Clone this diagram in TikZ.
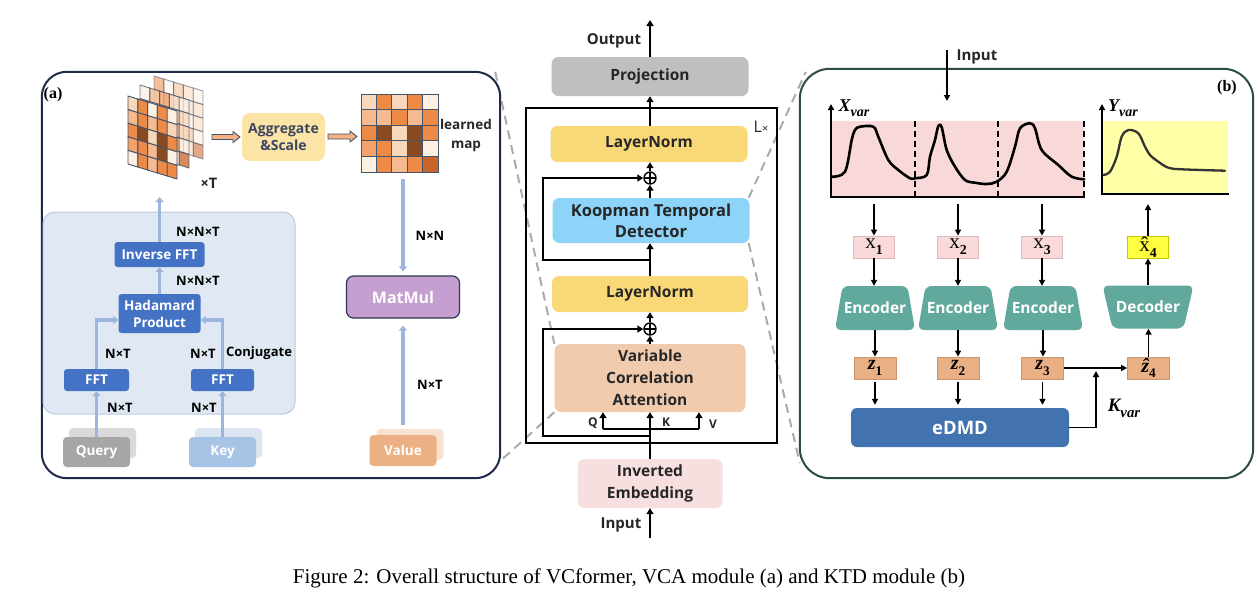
\documentclass[tikz,border=0pt]{standalone}
\usepackage{fontspec}
\setmainfont{Open Sans}
\newfontfamily\serifcap{Liberation Serif}
\usetikzlibrary{arrows.meta,calc}
\definecolor{txt}{HTML}{262626}
\definecolor{navy}{HTML}{1F2B4A}
\definecolor{pbgreen}{HTML}{2F4B47}
\definecolor{dgray}{HTML}{ABABAB}
\definecolor{projgray}{HTML}{BFBFBF}
\definecolor{lnyellow}{HTML}{F9D878}
\definecolor{ktdblue}{HTML}{8DD4F8}
\definecolor{vcapeach}{HTML}{F1CBAE}
\definecolor{embpink}{HTML}{F7DFE0}
\definecolor{aggyellow}{HTML}{FCE4A6}
\definecolor{aggtxt}{HTML}{3B4660}
\definecolor{fftblue}{HTML}{4472C4}
\definecolor{panelblue}{HTML}{DFE8F3}
\definecolor{panelblueb}{HTML}{BCCBDD}
\definecolor{arrowblue}{HTML}{9DB4DE}
\definecolor{matpurple}{HTML}{C59FD1}
\definecolor{matborder}{HTML}{2F3650}
\definecolor{qgray}{HTML}{A6A6A6}
\definecolor{qgrayb}{HTML}{DADADA}
\definecolor{kblue}{HTML}{A7C3E5}
\definecolor{kblueb}{HTML}{DCE6F2}
\definecolor{vpeach}{HTML}{EBB185}
\definecolor{vpeachb}{HTML}{F8E3D3}
\definecolor{encteal}{HTML}{62A99D}
\definecolor{xpink}{HTML}{F9D9D9}
\definecolor{xpinkb}{HTML}{DDB8B8}
\definecolor{xyellow}{HTML}{FFFF3F}
\definecolor{xyellowb}{HTML}{C8C800}
\definecolor{zpeach}{HTML}{E9B086}
\definecolor{zpeachb}{HTML}{C9956E}
\definecolor{edmdblue}{HTML}{4272B0}
\definecolor{plotpink}{HTML}{F8D8D8}
\definecolor{plotyellow}{HTML}{FFFFA8}
\definecolor{gridline}{HTML}{44546A}
\definecolor{hollowfill}{HTML}{F4B183}
\definecolor{gA}{HTML}{FDF0E1}
\definecolor{gB}{HTML}{F8D7BB}
\definecolor{gC}{HTML}{F5BA8F}
\definecolor{gD}{HTML}{F2A26A}
\definecolor{gE}{HTML}{EC8A46}
\definecolor{gF}{HTML}{C9642B}
\definecolor{gG}{HTML}{8A4A1F}
\newcommand{\cellgrid}[6]{%
  \foreach \gcol [count=\k from 0] in {#6} {%
    \pgfmathtruncatemacro\ci{mod(\k,5)}%
    \pgfmathtruncatemacro\cj{div(\k,5)}%
    \filldraw[fill=\gcol, draw=gridline, line width=0.9pt]
      ({#1+#3*\ci},{#2+#5*\ci+#4*\cj}) -- ++(#3,#5) -- ++(0,#4) -- ++(-#3,-#5) -- cycle;
  }%
}
% name, cx, cy, top width, bottom width, height, text
\newcommand{\trapnode}[7]{%
  \fill[encteal, rounded corners=6pt] ({#2-#4/2},{#3-#6/2}) -- ({#2+#4/2},{#3-#6/2}) -- ({#2+#5/2},{#3+#6/2}) -- ({#2-#5/2},{#3+#6/2}) -- cycle;
  \node[inner sep=0pt, minimum width=#5pt, minimum height=#6pt, text=white, font=\fontsize{15.5}{18}\selectfont\bfseries] (#1) at (#2,#3) {#7};
}
% hollow arrow from x1 to x2 at y
\newcommand{\hollowarrow}[3]{%
  \filldraw[fill=hollowfill, draw=gridline, line width=0.9pt, line join=miter]
    (#1,{#3-2.5}) -- ({#2-7},{#3-2.5}) -- ({#2-7},{#3-5.5}) -- (#2,#3) -- ({#2-7},{#3+5.5}) -- ({#2-7},{#3+2.5}) -- (#1,{#3+2.5}) -- cycle;
}
\newcommand{\lowsub}[1]{\raisebox{-0.28em}{\fontsize{0.66em}{0.8em}\selectfont #1}}
\newcommand{\varsub}[1]{\raisebox{-0.3em}{\fontsize{0.78em}{0.9em}\selectfont #1}}
\begin{document}
\begin{tikzpicture}[x=1pt,y=-1pt,
  cbox/.style={rounded corners=7pt, inner sep=0pt, align=center, font=\fontsize{15.5}{21}\selectfont\bfseries, text=txt},
  blk/.style={line width=2.2pt, -{Triangle[width=7pt,length=6pt]}},
  blkl/.style={line width=2.2pt},
  barr/.style={line width=3.5pt, draw=arrowblue, -{Triangle[width=8pt,length=5pt]}},
  fftbox/.style={fill=fftblue, rounded corners=3pt, inner sep=0pt, text=white, font=\fontsize{13.5}{16}\selectfont\bfseries, align=center},
  lbl/.style={font=\fontsize{13}{14}\selectfont\bfseries, inner sep=0pt},
  narr/.style={line width=1.6pt, -{Triangle[width=6pt,length=6pt]}},
  gdash/.style={draw=dgray, line width=2pt, dash pattern=on 9pt off 6pt},
  plusnode/.style={circle, draw, line width=1.4pt, minimum size=12pt, inner sep=0pt,
    path picture={\draw[line width=1.4pt] (path picture bounding box.north) -- (path picture bounding box.south) (path picture bounding box.west) -- (path picture bounding box.east);}},
  stackb/.style={rounded corners=4pt, inner sep=0pt, minimum width=67pt, minimum height=30pt, font=\fontsize{13.5}{15}\selectfont\bfseries, text=white},
  smallbox/.style={inner sep=0pt, minimum width=41pt, minimum height=22pt, line width=0.8pt, font=\serifcap\fontsize{21}{22}\selectfont},
  zbox/.style={smallbox, fill=zpeach, draw=zpeachb, minimum width=42pt, font=\serifcap\bfseries\itshape\fontsize{20}{21}\selectfont},
  mathlbl/.style={inner sep=0pt, font=\serifcap\bfseries\itshape\fontsize{18}{19}\selectfont},
  axisline/.style={line width=2pt}
]
\useasboundingbox (0,0) rectangle (1258,606);
\fill[white] (0,0) rectangle (1258,606);

% ---------- panels and dashed zoom lines ----------
\node[minimum width=458pt, minimum height=406pt, inner sep=0pt] (pa) at (271,275) {};
\node[minimum width=453pt, minimum height=409pt, inner sep=0pt] (pb) at (1026.5,273.5) {};
\node[minimum width=191pt, minimum height=68pt, inner sep=0pt] (vcaghost) at (650,378) {};
\node[minimum width=197pt, minimum height=45pt, inner sep=0pt] (ktdghost) at (650,220.5) {};

\draw[gdash] ([xshift=-5pt]pa.north east) -- (vcaghost.north west);
\draw[gdash] (vcaghost.south west) -- ($(pa.south east)+(-8,-10)$);
\draw[gdash] (ktdghost.north east) -- ($(pb.north west)+(6,3)$);
\draw[gdash] (ktdghost.south east) -- ($(pb.south west)+(0,-15)$);

\filldraw[fill=white, draw=navy, line width=2pt, rounded corners=25pt] (pa.north west) rectangle (pa.south east);
\filldraw[fill=white, draw=pbgreen, line width=2pt, rounded corners=30pt] (pb.north west) rectangle (pb.south east);

% ================= CENTER COLUMN =================
\node[draw, line width=2.5pt, minimum width=251pt, minimum height=335pt, inner sep=0pt] (lbox) at (651.5,275.5) {};
\node[font=\fontsize{16}{17}\selectfont, text=txt] (lx) at (761,127) {L{\fontsize{11}{11}\selectfont ×}};

\node[cbox, fill=projgray, minimum width=197pt, minimum height=39pt] (proj) at (650,76.5) {Projection};
\node[cbox, fill=lnyellow, minimum width=197pt, minimum height=36pt] (ln1) at (649,144) {LayerNorm};
\node[plusnode] (plus2) at (650,178) {};
\node[cbox, fill=ktdblue, minimum width=197pt, minimum height=45pt, font=\fontsize{16.5}{21}\selectfont\bfseries] (ktd) at (651,220.5) {Koopman Temporal\\Detector};
\node[cbox, fill=lnyellow, minimum width=196pt, minimum height=36pt] (ln2) at (650,294) {LayerNorm};
\node[plusnode] (plus1) at (650,329) {};
\node[cbox, fill=vcapeach, minimum width=191pt, minimum height=68pt, font=\fontsize{15.5}{22}\selectfont\bfseries] (vca) at (650,378) {Variable\\Correlation\\Attention};
\node[cbox, fill=embpink, minimum width=145pt, minimum height=49pt, font=\fontsize{15.5}{22}\selectfont\bfseries] (emb) at (650,483.5) {Inverted\\Embedding};

\coordinate (skipx) at (543,0);
\coordinate (inp) at (650,538);
\coordinate (outp) at (650,20);
\coordinate (s1) at (650,436);
\coordinate (s2) at (650,260);
\coordinate (qb) at (603,429);
\coordinate (vb) at (699,429);

\draw[blk] (inp) -- (emb.south);
\draw[blk] (emb.north) -- (vca.south);
\draw[blkl] (qb) -- (vb);
\draw[blk] (qb) -- (qb |- vca.south);
\draw[blk] (vb) -- (vb |- vca.south);
\draw[blk] (s1) -- (s1 -| skipx) |- (plus1.west);
\draw[blk] (vca.north) -- (plus1.south);
\draw[blk] (plus1.north) -- (ln2.south);
\draw[blk] (ln2.north) -- (ktd.south -| ln2.north);
\draw[blk] (s2) -- (s2 -| skipx) |- (plus2.west);
\draw[blk] (ktd.north -| plus2.south) -- (plus2.south);
\draw[blk] (plus2.north) -- (ln1.south -| plus2.north);
\draw[blk] (ln1.north -| proj.south) -- (proj.south);
\draw[blk] (proj.north) -- (outp);

\node[font=\fontsize{12}{13}\selectfont\bfseries, text=txt] (lq) at (593,423) {Q};
\node[font=\fontsize{12}{13}\selectfont\bfseries, text=txt] (lk) at (666,422) {K};
\node[font=\fontsize{12}{13}\selectfont\bfseries, text=txt] (lv) at (713,424) {V};
\node[font=\fontsize{15}{17}\selectfont\bfseries, text=txt] (outlbl) at (614,41) {Output};
\node[font=\fontsize{15}{17}\selectfont\bfseries, text=txt] (inlbl) at (621,525) {Input};

% ================= PANEL (a) =================
\node[font=\serifcap\bfseries\fontsize{16}{18}\selectfont] (alab) at (53,95) {(a)};
\node[fill=panelblue, draw=panelblueb, line width=1pt, rounded corners=12pt, minimum width=252pt, minimum height=202pt, inner sep=0pt] (bluep) at (169,313) {};

% stacked grids
\begin{scope}[opacity=0.55]
\cellgrid{154}{76}{9.8}{13.6}{3.0}{gE,gA,gC,gB,gA, gB,gC,gA,gB,gB, gA,gB,gC,gA,gB, gB,gA,gB,gC,gA, gA,gB,gA,gB,gF}
\end{scope}
\begin{scope}[opacity=0.75]
\cellgrid{140}{85}{9.8}{13.6}{3.0}{gA,gC,gD,gB,gA, gE,gB,gF,gC,gB, gC,gE,gA,gD,gB, gB,gD,gC,gE,gA, gA,gC,gE,gB,gF}
\end{scope}
\cellgrid{128}{96}{9.8}{13.6}{3.0}{gB,gE,gA,gE,gA, gC,gE,gC,gE,gB, gE,gG,gB,gG,gE, gD,gE,gC,gG,gA, gA,gE,gC,gE,gE}
\node[font=\fontsize{14.5}{16}\selectfont\bfseries, text=txt] (xt) at (209,183) {×T};

% learned map
\cellgrid{361}{94}{15.4}{15.6}{0}{gB,gE,gB,gE,gA, gC,gC,gE,gC,gE, gE,gG,gB,gG,gE, gD,gE,gB,gG,gA, gA,gE,gC,gE,gF}
\node[font=\fontsize{13.5}{19}\selectfont\bfseries, text=txt, align=center] (lm) at (466,135) {learned\\map};

\node[fill=aggyellow, rounded corners=8pt, minimum width=83pt, minimum height=48pt, inner sep=0pt, align=center, text=aggtxt, font=\fontsize{14}{17}\selectfont\bfseries] (agg) at (283.5,137) {Aggregate\\\&Scale};
\hollowarrow{212}{240}{137}
\hollowarrow{328}{357}{136.5}

\node[fftbox, minimum width=90pt, minimum height=25pt] (ifft) at (159.5,254.5) {Inverse FFT};
\node[fftbox, minimum width=82pt, minimum height=39pt, font=\fontsize{13.5}{17}\selectfont\bfseries] (hp) at (159.5,313.5) {Hadamard\\Product};
\node[fftbox, minimum width=65pt, minimum height=22pt] (fftl) at (96.5,380) {FFT};
\node[fftbox, minimum width=63pt, minimum height=22pt] (fftr) at (222.5,380) {FFT};

\node[stackb, fill=qgrayb] (qback) at (102.5,443) {};
\node[stackb, fill=qgray] (query) at (96.5,452) {Query};
\node[stackb, fill=kblueb] (kback) at (228.5,443) {};
\node[stackb, fill=kblue] (key) at (222.5,452) {Key};
\node[stackb, fill=vpeachb, minimum height=31pt] (vback) at (410,444.5) {};
\node[stackb, fill=vpeach, minimum height=31pt] (value) at (403,450.5) {Value};

\node[fill=matpurple, draw=matborder, line width=1.2pt, rounded corners=7pt, minimum width=113pt, minimum height=42pt, inner sep=0pt, text=white, font=\fontsize{16}{18}\selectfont\bfseries] (mm) at (403,297) {MatMul};

\coordinate (gbot) at (159.5,197);
\coordinate (lmbot) at (403,179);
\draw[barr] (query.north) -- (fftl.south);
\draw[barr] (key.north) -- (fftr.south);
\draw[barr] (fftl.north) |- ([yshift=-6.5pt]hp.west);
\draw[barr] (fftr.north) |- ([yshift=-6.5pt]hp.east);
\draw[barr] (hp.north) -- (ifft.south);
\draw[barr] (ifft.north) -- (gbot);
\draw[barr, shorten >=4pt] (lmbot) -- (mm.north);
\draw[barr, shorten >=7pt, shorten <=10pt] (value.north) -- (mm.south);

\node[lbl] (l1) at (198,232) {N×N×T};
\node[lbl] (l2) at (198,281) {N×N×T};
\node[lbl] (l3) at (118,354) {N×T};
\node[lbl] (l4) at (203,354) {N×T};
\node[lbl] (l5) at (259,353) {Conjugate};
\node[lbl] (l6) at (120,408) {N×T};
\node[lbl] (l7) at (204,408) {N×T};
\node[lbl] (l8) at (430,236) {N×N};
\node[lbl] (l9) at (430,385) {N×T};

% ================= PANEL (b) =================
\node[font=\serifcap\bfseries\fontsize{16}{18}\selectfont] (blab) at (1227,88) {(b)};
\coordinate (ib1) at (947,50);
\coordinate (ib2) at (947,101);
\draw[narr, line width=2pt] (ib1) -- (ib2);
\node[font=\fontsize{15}{17}\selectfont\bfseries, text=txt] (inb) at (977,57) {Input};

% X plot
\fill[plotpink] (831,121) rectangle (1084,197);
\draw[line width=1.5pt, dash pattern=on 6pt off 4pt] (915,121) -- (915,197) (998,121) -- (998,197) (1084,121) -- (1084,197);
\draw[line width=2.6pt, line join=round, line cap=round] plot[smooth, tension=0.55] coordinates {
(831.7,176.7) (845,171.7) (851.7,140) (855,130) (860,126.7) (873.3,126.7) (878.3,136.7) (888.3,160) (898.3,170) (910,178.3) (915,178.3) (926.7,175) (930,156.7) (935,140) (938.3,126) (941.7,127.3) (946.7,150) (955,166.7) (965,180) (975,182.7) (986.7,184) (996.7,181.7) (1006.7,171.7) (1015,146.7) (1020,128.3) (1030,123.3) (1035,128.3) (1041.7,150) (1058.3,165) (1071.7,176.7) (1084.3,179.3)};
\draw[axisline, -{Triangle[width=6pt,length=6pt]}] (831,197) -- (831,104);
\draw[axisline] (830,197) -- (1085,197);
\node[mathlbl] (xvar) at (854,108) {X\varsub{var}};

% Y plot
\fill[plotyellow] (1102,121) rectangle (1228,194);
\draw[line width=2.3pt, draw=black!80, line join=round, line cap=round] plot[smooth, tension=0.55] coordinates {
(1103.3,175) (1110,171.7) (1116.7,156.7) (1121.7,136.7) (1128.3,130) (1138.3,133.3) (1145,146.7) (1150,155) (1158.3,161.7) (1168.3,167.7) (1181.7,169.3) (1225,170.7)};
\draw[axisline, -{Triangle[width=6pt,length=6pt]}] (1102,194) -- (1102,104);
\draw[axisline] (1101,194) -- (1229,194);
\node[mathlbl] (yvar) at (1123,108) {Y\varsub{var}};

% x boxes
\node[smallbox, fill=xpink, draw=xpinkb] (x1) at (874,247) {x\lowsub{\bfseries 1}};
\node[smallbox, fill=xpink, draw=xpinkb] (x2) at (958,247) {x\lowsub{\bfseries 2}};
\node[smallbox, fill=xpink, draw=xpinkb] (x3) at (1042,247) {x\lowsub{\bfseries 3}};
\node[smallbox, fill=xyellow, draw=xyellowb] (x4) at (1148,247) {\^{x}\lowsub{\bfseries 4}};

\trapnode{e1}{875}{308}{65}{80}{44}{Encoder}
\trapnode{e2}{958}{308}{65}{80}{44}{Encoder}
\trapnode{e3}{1043}{308}{65}{80}{44}{Encoder}
\trapnode{dec}{1148}{307}{91}{71}{43}{Decoder}

\node[zbox] (z1) at (875,368) {z\lowsub{\upshape 1}};
\node[zbox] (z2) at (958,368) {z\lowsub{\upshape 2}};
\node[zbox] (z3) at (1042.5,368) {z\lowsub{\upshape 3}};
\node[zbox] (z4) at (1148.5,368) {\^{z}\lowsub{\upshape 4}};

\node[fill=edmdblue, rounded corners=6pt, minimum width=218pt, minimum height=39pt, inner sep=0pt, text=white, font=\fontsize{18.5}{20}\selectfont\bfseries] (edmd) at (960,427.5) {eDMD};

\coordinate (pt1) at (874,204);
\coordinate (pt2) at (958,204);
\coordinate (pt3) at (1042,204);
\coordinate (pt4) at (1148,204);
\coordinate (kv) at (1096,371);
\draw[narr] (pt1) -- (x1.north);
\draw[narr] (pt2) -- (x2.north);
\draw[narr] (pt3) -- (x3.north);
\draw[narr] (x4.north) -- (pt4);
\draw[narr] (x1.south) -- (x1.south |- e1.north);
\draw[narr] (x2.south) -- (x2.south |- e2.north);
\draw[narr] (x3.south) -- (x3.south |- e3.north);
\draw[narr] (dec.north) -- (x4.south);
\draw[narr] (e1.south) -- (e1.south |- z1.north);
\draw[narr] (e2.south) -- (e2.south |- z2.north);
\draw[narr] (e3.south) -- (e3.south |- z3.north);
\draw[narr] (z4.north) -- (z4.north |- dec.south);
\draw[narr, shorten <=3pt, shorten >=3pt] (z1.south) -- (z1.south |- edmd.north);
\draw[narr, shorten <=3pt, shorten >=3pt] (z2.south) -- (z2.south |- edmd.north);
\draw[narr, shorten <=3pt, shorten >=3pt] (z3.south) -- (z3.south |- edmd.north);
\draw[narr] (z3.east) -- (z4.west);
\draw[narr] (edmd.east) -| (kv);
\node[mathlbl, font=\serifcap\bfseries\itshape\fontsize{19}{20}\selectfont] (kvar) at (1124,408) {K\varsub{var}};

% caption
\node[font=\serifcap\fontsize{21}{25}\selectfont] (cap) at (629,578) {Figure 2: Overall structure of VCformer, VCA module (a) and KTD module (b)};
\end{tikzpicture}
\end{document}
